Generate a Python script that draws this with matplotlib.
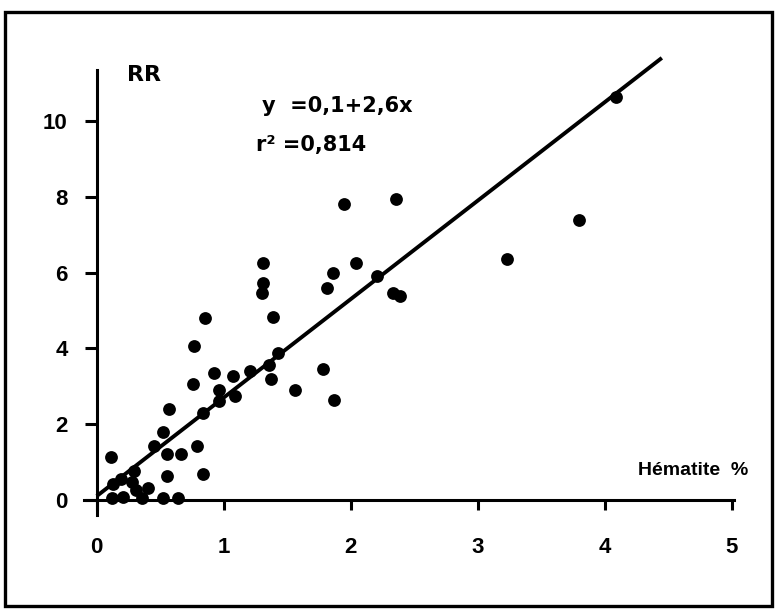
import matplotlib
matplotlib.use("Agg")
import matplotlib.pyplot as plt
from matplotlib.patches import Rectangle
import numpy as np

plt.rcParams['font.family'] = ['Liberation Sans', 'DejaVu Sans']

# Data (Hématite %, RR)
hematite = [0.11, 0.12, 0.21, 0.13, 0.19, 0.29, 0.28, 0.31, 0.40, 0.36, 0.52, 0.64,
            0.55, 0.55, 0.45, 0.52, 0.66, 0.57, 0.79, 0.84, 0.84, 0.76, 0.77, 0.85,
            0.92, 0.96, 0.96, 1.07, 1.09, 1.21, 1.31, 1.31, 1.30, 1.39, 1.36, 1.37,
            1.43, 1.56, 1.78, 1.87, 1.81, 1.86, 2.04, 1.95, 2.36, 2.21, 2.33, 2.39,
            3.23, 3.80, 4.09]
rr = [1.12, 0.05, 0.08, 0.42, 0.55, 0.77, 0.48, 0.26, 0.31, 0.05, 0.05, 0.05,
      0.62, 1.21, 1.42, 1.78, 1.21, 2.40, 1.41, 0.69, 2.30, 3.06, 4.06, 4.81,
      3.36, 2.90, 2.62, 3.27, 2.74, 3.41, 6.25, 5.72, 5.47, 4.84, 3.56, 3.20,
      3.89, 2.90, 3.46, 2.64, 5.59, 5.98, 6.25, 7.81, 7.94, 5.91, 5.46, 5.39,
      6.36, 7.39, 10.63]

# Regression y = a + b x
intercept = 0.1
slope = 2.6
fit_x = [0.0, 4.45]

x_ticks = [0, 1, 2, 3, 4, 5]
y_ticks = [0, 2, 4, 6, 8, 10]

fig = plt.figure(figsize=(7.75, 6.1), dpi=100)
ax = fig.add_axes([0.1084, 0.1557, 0.839, 0.7295])

ax.scatter(hematite, rr, s=85, color='black', zorder=3, linewidths=0, clip_on=False)
fx = np.array(fit_x)
ax.plot(fx, intercept + slope * fx, color='black', lw=2.8, zorder=2,
        solid_capstyle='butt', clip_on=False)

ax.set_xlim(-0.1, 5.02)
ax.set_ylim(-0.4, 11.35)

for s in ['top', 'right']:
    ax.spines[s].set_visible(False)
ax.spines['left'].set_position(('data', 0))
ax.spines['bottom'].set_position(('data', 0))
ax.spines['left'].set_linewidth(2.2)
ax.spines['bottom'].set_linewidth(2.2)

ax.set_xticks(x_ticks)
ax.set_yticks(y_ticks)
ax.set_xticklabels([str(v) for v in x_ticks])
ax.set_yticklabels([str(v) for v in y_ticks])
ax.tick_params(axis='x', direction='out', length=7, width=2.2, pad=20,
               labelsize=16)
ax.tick_params(axis='y', direction='out', length=9, width=2.2, pad=12,
               labelsize=16)
for lab in ax.get_xticklabels() + ax.get_yticklabels():
    lab.set_fontweight('bold')

wide = ['DejaVu Sans']
fig.text(0.186, 0.877, 'RR', fontsize=16, fontweight='bold', ha='center', va='center',
         family=wide)
fig.text(0.338, 0.826, 'y  =0,1+2,6x', fontsize=15, fontweight='bold', ha='left',
         va='center', family=wide)
fig.text(0.330, 0.762, 'r² =0,814', fontsize=15, fontweight='bold', ha='left',
         va='center', family=wide)
fig.text(0.965, 0.229, 'Hématite  %', fontsize=14, fontweight='bold', ha='right',
         va='center')

# Outer frame
fig.patches.append(Rectangle((5 / 775, 1 - 606 / 610), (772 - 5) / 775, (606 - 12) / 610,
                             transform=fig.transFigure, fill=False,
                             edgecolor='black', lw=2.4))

fig.savefig('out.png', dpi=100)
